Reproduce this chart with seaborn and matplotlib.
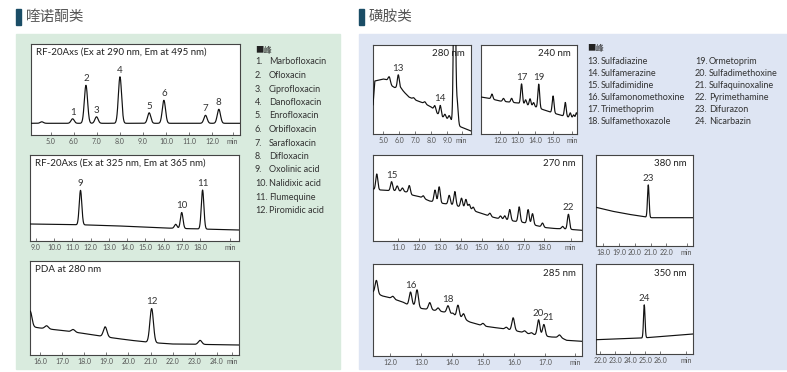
import numpy as np
import matplotlib
matplotlib.use("Agg")
import matplotlib.pyplot as plt
from matplotlib.patches import Rectangle
import seaborn as sns

sns.set_style("white")
plt.rcParams["font.family"] = ["Lato", "Noto Sans CJK SC", "DejaVu Sans"]

# ---------------- quinolones ----------------
q1_base_t = [4.13, 13.22]
q1_base_y = [11.7, 11.7]
q1_peak_t = [4.6, 5.94, 6.52, 6.98, 8.0, 9.27, 9.91, 11.72, 12.3]
q1_peak_h = [1.5, 4.5, 38, 6.5, 46.5, 10.5, 23, 8, 14]
q1_peak_lbl = ["", "1", "2", "3", "4", "5", "6", "7", "8"]
q1_ticks = [5.0, 6.0, 7.0, 8.0, 9.0, 10.0, 11.0, 12.0]

q2_base_t = [8.69, 12.0, 13.0, 16.0, 20.11]
q2_base_y = [17.0, 16.0, 15.5, 13.0, 11.0]
q2_peak_t = [11.45, 16.65, 16.98, 18.12]
q2_peak_h = [34.5, 4, 16, 39]
q2_peak_lbl = ["9", "", "10", "11"]
q2_ticks = [9.0, 10.0, 11.0, 12.0, 13.0, 14.0, 15.0, 16.0, 17.0, 18.0]

q3_base_t = [15.55, 15.7, 16.0, 17.0, 18.0, 19.0, 20.0, 21.0, 22.0, 23.0, 25.0]
q3_base_y = [30, 28, 27, 24.5, 21.5, 18, 15, 12.5, 11, 10.7, 10]
q3_peak_t = [15.56, 16.3, 17.5, 18.95, 21.05, 23.24]
q3_peak_h = [14, 3, 2.5, 10, 34, 4]
q3_peak_lbl = ["", "", "", "", "12", ""]
q3_ticks = [16.0, 17.0, 18.0, 19.0, 20.0, 21.0, 22.0, 23.0, 24.0]

quinolone_names = ["Marbofloxacin", "Ofloxacin", "Ciprofloxacin", "Danofloxacin",
                   "Enrofloxacin", "Orbifloxacin", "Sarafloxacin", "Difloxacin",
                   "Oxolinic acid", "Nalidixic acid", "Flumequine", "Piromidic acid"]

# ---------------- sulfonamides ----------------
s280_base_t = [4.36, 4.47, 5.0, 5.3, 5.55, 5.7, 6.1, 6.3, 6.6, 7.0, 7.5, 8.0, 8.3,
               8.5, 8.8, 9.2, 9.7, 10.48]
s280_base_y = [29, 53, 55, 54, 48, 46.5, 46, 42, 37, 34, 31, 27, 22, 18, 16, 14, 8, 3]
s280_peak_t = [5.38, 5.94, 6.9, 7.6, 8.22, 8.56, 8.85, 9.12, 9.45, 9.62]
s280_peak_h = [5, 13, 1.5, 2, 5, 11, 4, 4, 200, 22]
s280_peak_lbl = ["", "13", "", "", "", "14", "", "", "", ""]
s280_ticks = [5.0, 6.0, 7.0, 8.0, 9.0]

s240_base_t = [10.93, 11.3, 12.0, 12.5, 13.0, 13.5, 14.0, 14.5, 15.0, 15.5, 16.0, 16.35]
s240_base_y = [37, 36, 33, 32, 31, 29, 27, 24, 21, 18.5, 16, 14]
s240_peak_t = [11.55, 12.2, 12.66, 13.22, 13.45, 13.7, 13.9, 14.19, 15.0, 15.69,
               15.97, 16.16, 16.32]
s240_peak_h = [5, 3, 4, 20, 5, 7, 4, 24, 17, 14, 5, 4, 7]
s240_peak_lbl = ["", "", "", "17", "", "", "", "19", "", "", "", "", ""]
s240_ticks = [12.0, 13.0, 14.0, 15.0]

s270_base_t = [9.79, 9.9, 10.2, 10.5, 11.0, 11.4, 11.65, 12.0, 12.5, 13.0, 13.5, 14.0,
               14.5, 15.0, 15.5, 16.0, 16.5, 17.0, 17.5, 18.0, 18.5, 19.0, 19.8]
s270_base_y = [52, 51, 51, 50.5, 50, 49, 46, 44.5, 40, 38, 36.5, 34, 31, 27.5, 24,
               21.5, 20, 18.5, 16, 13.5, 12.5, 12, 10.7]
s270_peak_t = [9.97, 10.68, 10.95, 11.2, 11.53, 12.2, 12.76, 12.96, 13.44, 13.71,
               14.03, 14.24, 14.4, 14.59, 15.39, 15.9, 16.1, 16.34, 16.79, 17.22,
               17.43, 17.91, 18.87, 19.15]
s270_peak_h = [16, 9, 5, 3.5, 8, 2.5, 12, 16, 9, 14, 9, 9, 5, 3.5, 3, 3, 4, 11, 15,
               14, 11, 4, 2.5, 15]
s270_peak_lbl = ["", "15"] + [""] * 21 + ["22"]
s270_ticks = [11.0, 12.0, 13.0, 14.0, 15.0, 16.0, 17.0, 18.0]

s380_base_t = [17.54, 18.5, 19.5, 20.7, 20.95, 23.68]
s380_base_y = [38.7, 35, 32, 29, 28.3, 28.3]
s380_peak_t = [20.85]
s380_peak_h = [32.5]
s380_peak_lbl = ["23"]
s380_ticks = [18.0, 19.0, 20.0, 21.0, 22.0]

s285_base_t = [11.44, 11.6, 11.75, 11.9, 12.1, 12.4, 12.55, 12.75, 13.0, 13.3, 13.55,
               13.86, 14.1, 14.36, 14.56, 15.0, 15.63, 16.0, 16.5, 16.78, 17.2, 17.5,
               17.68, 18.18]
s285_base_y = [64, 62, 60, 59, 57, 54, 51.5, 50.5, 47.5, 46.3, 45, 43.3, 39.5, 37.3,
               34, 30, 27.3, 25.5, 22, 20.7, 19, 18.5, 15.7, 14.7]
s285_peak_t = [11.55, 12.08, 12.65, 12.86, 13.27, 13.54, 13.86, 14.02, 14.18, 14.36,
               14.99, 15.74, 15.96, 16.33, 16.55, 16.78, 16.95, 17.45]
s285_peak_h = [13, 2.5, 13, 17, 7, 3, 7, 2, 12, 5, 2.5, 2, 12.5, 2, 1.5, 15.5, 11.5, 2.5]
s285_peak_lbl = ["", "", "16", "", "", "", "18", "", "", "", "", "", "", "", "",
                 "20", "21", ""]
s285_ticks = [12.0, 13.0, 14.0, 15.0, 16.0, 17.0]

s350_base_t = [21.73, 24.8, 28.16]
s350_base_y = [14.3, 16, 20]
s350_peak_t = [24.93]
s350_peak_h = [33]
s350_peak_lbl = ["24"]
s350_ticks = [22.0, 23.0, 24.0, 25.0, 26.0]

sulfa_names_a = ["Sulfadiazine", "Sulfamerazine", "Sulfadimidine",
                 "Sulfamonomethoxine", "Trimethoprim", "Sulfamethoxazole"]
sulfa_names_b = ["Ormetoprim", "Sulfadimethoxine", "Sulfaquinoxaline",
                 "Pyrimethamine", "Difurazon", "Nicarbazin"]

# ---------------- layout ----------------
W, H = 787, 372
fig = plt.figure(figsize=(W / 100, H / 100), dpi=100)

GREEN = "#d9ebde"
BLUE = "#dee5f3"
BAR = "#1a4d66"
INK = "#333333"


def fig_rect(x0, y0, x1, y1, color):
    fig.patches.append(Rectangle((x0 / W, 1 - y1 / H), (x1 - x0) / W, (y1 - y0) / H,
                                 transform=fig.transFigure, color=color, zorder=-5))


def fx(x):
    return x / W


def fy(y):
    return 1 - y / H


fig_rect(16, 34, 340, 369, GREEN)
fig_rect(359, 34, 787, 369, BLUE)
fig_rect(16, 9, 21, 25, BAR)
fig_rect(359, 9, 364, 25, BAR)
fig.text(fx(26), fy(17), "喹诺酮类", fontsize=10.5, color="#555555",
         family=["Noto Sans CJK SC"], va="center", ha="left")
fig.text(fx(369), fy(17), "磺胺类", fontsize=10.5, color="#555555",
         family=["Noto Sans CJK SC"], va="center", ha="left")


def chromatogram(box, xlim, base_t, base_y, peak_t, peak_h, peak_lbl, ticks, min_x,
                 sigma, title=None, wl=None, lbl_dx=None):
    x0, y0, x1, y1 = box
    ax = fig.add_axes([x0 / W, 1 - y1 / H, (x1 - x0) / W, (y1 - y0) / H])
    ax.set_zorder(2)
    ax.set_facecolor("white")
    t = np.linspace(xlim[0], xlim[1], 2000)
    sig = np.interp(t, base_t, base_y)
    for tp, hp in zip(peak_t, peak_h):
        sig = sig + hp * np.exp(-0.5 * ((t - tp) / sigma) ** 2)
    sns.lineplot(x=t, y=sig, ax=ax, color="#111111", linewidth=0.85, zorder=3)
    ax.set_xlim(*xlim)
    ax.set_ylim(0, y1 - y0)
    for tp, hp, lb in zip(peak_t, peak_h, peak_lbl):
        if lb:
            top = np.interp(tp, base_t, base_y) + hp
            dx = (lbl_dx or {}).get(lb, 0)
            ax.annotate(lb, (tp, top), xytext=(dx, 1.5), textcoords="offset points",
                        ha="center", va="bottom", fontsize=7, color=INK)
    ax.set_xticks(list(ticks) + [min_x])
    ax.set_xticklabels([f"{v:.1f}" for v in ticks] + ["min"])
    ax.tick_params(axis="x", direction="in", length=2, width=0.5, color="#444444",
                   labelsize=5, labelcolor="#555555", pad=2.5, bottom=True)
    ax.set_yticks([])
    ax.set_xlabel("")
    ax.set_ylabel("")
    for s in ax.spines.values():
        s.set_color("#444444")
        s.set_linewidth(0.8)
        s.set_visible(True)
    if title:
        ax.text(5 / (x1 - x0), 1 - 8 / (y1 - y0), title, transform=ax.transAxes,
                fontsize=7, color="#222222", ha="left", va="center")
    if wl:
        ax.text(1 - 6 / (x1 - x0), 1 - 9 / (y1 - y0), wl, transform=ax.transAxes,
                fontsize=7, color="#222222", ha="right", va="center", zorder=1)
    return ax


chromatogram((31, 44, 240, 135), (4.13, 13.22), q1_base_t, q1_base_y, q1_peak_t,
             q1_peak_h, q1_peak_lbl, q1_ticks, 12.9, 0.07,
             title="RF-20Axs (Ex at 290 nm, Em at 495 nm)")
chromatogram((30, 155, 239, 241), (8.69, 20.11), q2_base_t, q2_base_y, q2_peak_t,
             q2_peak_h, q2_peak_lbl, q2_ticks, 19.64, 0.07,
             title="RF-20Axs (Ex at 325 nm, Em at 365 nm)")
chromatogram((30, 261, 239, 355), (15.55, 25.0), q3_base_t, q3_base_y, q3_peak_t,
             q3_peak_h, q3_peak_lbl, q3_ticks, 24.7, 0.08, title="PDA at 280 nm")

chromatogram((373, 45, 471, 134), (4.36, 10.48), s280_base_t, s280_base_y, s280_peak_t,
             s280_peak_h, s280_peak_lbl, s280_ticks, 9.9, 0.06, wl="280 nm")
chromatogram((481, 45, 577, 134), (10.93, 16.35), s240_base_t, s240_base_y, s240_peak_t,
             s240_peak_h, s240_peak_lbl, s240_ticks, 16.07, 0.05, wl="240 nm")
chromatogram((373, 155, 582, 241), (9.79, 19.8), s270_base_t, s270_base_y, s270_peak_t,
             s270_peak_h, s270_peak_lbl, s270_ticks, 19.25, 0.05, wl="270 nm")
chromatogram((596, 155, 693, 246), (17.54, 23.68), s380_base_t, s380_base_y, s380_peak_t,
             s380_peak_h, s380_peak_lbl, s380_ticks, 23.28, 0.05, wl="380 nm")
chromatogram((373, 264, 582, 356), (11.44, 18.18), s285_base_t, s285_base_y, s285_peak_t,
             s285_peak_h, s285_peak_lbl, s285_ticks, 17.95, 0.042, wl="285 nm",
             lbl_dx={"21": 3})
chromatogram((596, 264, 693, 354), (21.73, 28.16), s350_base_t, s350_base_y, s350_peak_t,
             s350_peak_h, s350_peak_lbl, s350_ticks, 27.7, 0.05, wl="350 nm")

# ---------------- peak legends ----------------
fig.text(fx(255), fy(50), "■峰", fontsize=6, color="#222222",
         family=["Noto Sans CJK SC"], va="center", ha="left")
for i, name in enumerate(quinolone_names):
    y = 62 + 13.5 * i
    fig.text(fx(255), fy(y), f"{i + 1}.", fontsize=6.5, color=INK, va="center", ha="left")
    fig.text(fx(269), fy(y), name, fontsize=6.5, color=INK, va="center", ha="left")

fig.text(fx(587), fy(49), "■峰", fontsize=6, color="#222222",
         family=["Noto Sans CJK SC"], va="center", ha="left")
for i, name in enumerate(sulfa_names_a):
    y = 62 + 12 * i
    fig.text(fx(587), fy(y), f"{13 + i}.", fontsize=6.5, color=INK, va="center", ha="left")
    fig.text(fx(601), fy(y), name, fontsize=6.5, color=INK, va="center", ha="left")
for i, name in enumerate(sulfa_names_b):
    y = 62 + 12 * i
    fig.text(fx(695), fy(y), f"{19 + i}.", fontsize=6.5, color=INK, va="center", ha="left")
    fig.text(fx(709), fy(y), name, fontsize=6.5, color=INK, va="center", ha="left")

fig.savefig("out.png", dpi=100)
